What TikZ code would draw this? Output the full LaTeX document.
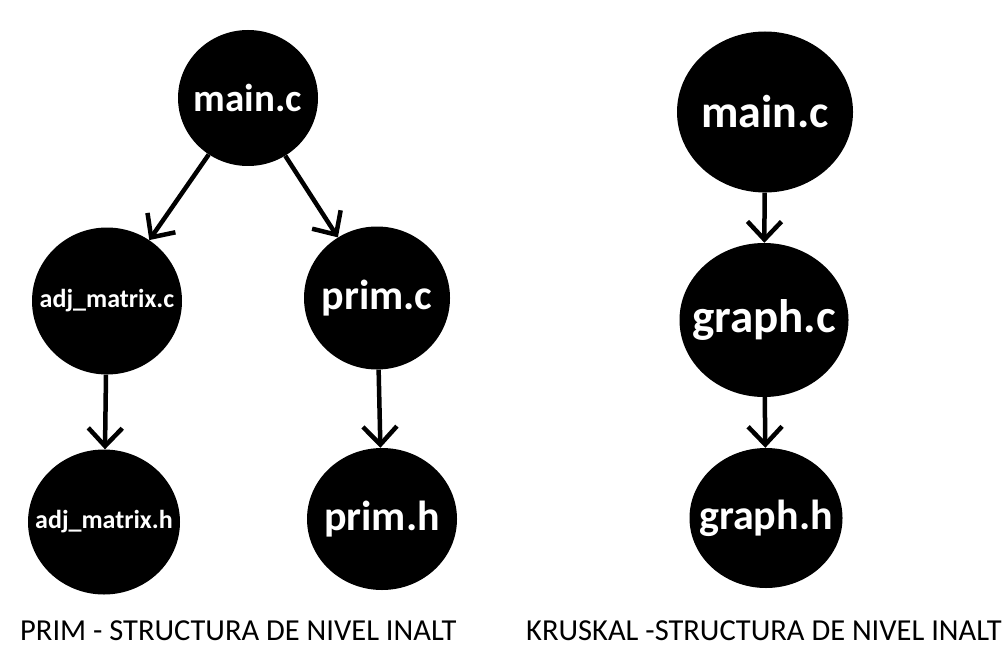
\documentclass[tikz,border=0pt]{standalone}
\usepackage{fontspec}
\setmainfont{Carlito}
\usetikzlibrary{shapes.geometric}
\usetikzlibrary{arrows.meta}
\tikzset{
    filenode/.style = {ellipse, fill=black, text=white, inner sep=0pt, align=center, font=\bfseries},
    edgen/.style = {-{Straight Barb[length=18pt,width=34pt]}, line width=4.5pt, black},
    caption/.style = {anchor=base west, inner sep=0pt, font=\fontsize{30.5}{30.5}\selectfont}
}
\newcommand{\fs}[1]{\fontsize{#1}{#1}\selectfont}
\newcommand{\fname}[1]{\makebox[0pt]{#1}}

\begin{document}
\begin{tikzpicture}[x=1pt, y=-1pt]
  \useasboundingbox (0,0) rectangle (1008,671);
  % PRIM
  \node[filenode, minimum width=140pt, minimum height=136pt, font=\bfseries\fs{39}] (pmain) at (248,98) {\fname{main.c}};
  \node[filenode, minimum width=150pt, minimum height=147pt, font=\bfseries\fs{26}] (adjc) at (107,301) {\fname{adj\_matrix.c}};
  \node[filenode, minimum width=146pt, minimum height=143pt, font=\bfseries\fs{42}] (primc) at (377,298) {\fname{prim.c}};
  \node[filenode, minimum width=152pt, minimum height=145pt, font=\bfseries\fs{26}] (adjh) at (104,522) {\fname{adj\_matrix.h}};
  \node[filenode, minimum width=150pt, minimum height=142pt, font=\bfseries\fs{42}] (primh) at (382,519) {\fname{prim.h}};
  \draw[edgen] (pmain) -- (adjc);
  \draw[edgen] (pmain) -- (primc);
  \draw[edgen] (adjc) -- (adjh);
  \draw[edgen] (primc) -- (primh);
  % KRUSKAL
  \node[filenode, minimum width=176pt, minimum height=161pt, font=\bfseries\fs{46}] (kmain) at (765,112) {\fname{main.c}};
  \node[filenode, minimum width=169pt, minimum height=154pt, font=\bfseries\fs{47}] (graphc) at (764,320) {\fname{graph.c}};
  \node[filenode, minimum width=153pt, minimum height=140pt, font=\bfseries\fs{42}] (graphh) at (766,518) {\fname{graph.h}};
  \draw[edgen] (kmain) -- (graphc);
  \draw[edgen] (graphc) -- (graphh);
  % captions
  \node[caption] (pcap) at (20,640) {PRIM - STRUCTURA DE NIVEL INALT};
  \node[caption] (kcap) at (526,640) {KRUSKAL -STRUCTURA DE NIVEL INALT};
\end{tikzpicture}
\end{document}
